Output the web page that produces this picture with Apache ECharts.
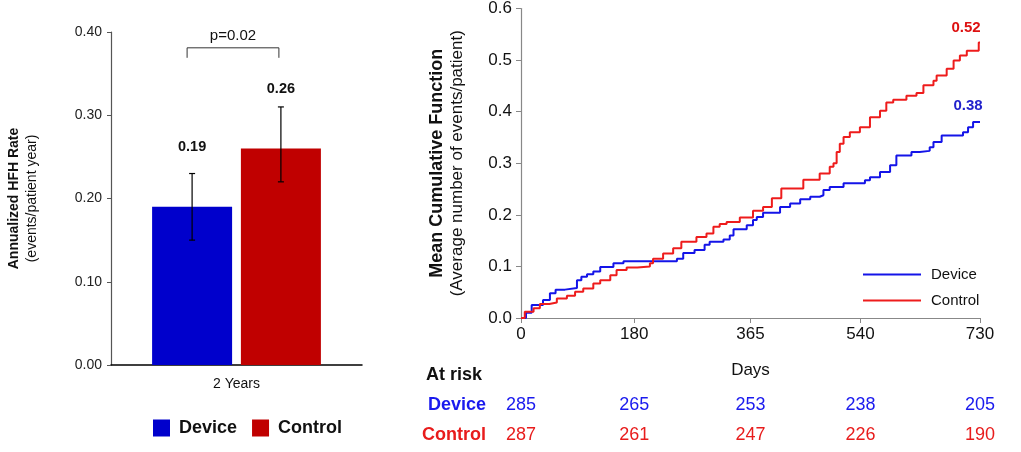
<!DOCTYPE html>
<html>
<head>
<meta charset="utf-8">
<script src="https://cdn.jsdelivr.net/npm/echarts@6/dist/echarts.min.js"></script>
<style>
  html, body { margin: 0; padding: 0; background: #fff; }
  #chart { width: 1021px; height: 452px; }
</style>
</head>
<body>
<div id="chart"></div>
<script>
// 左：年化 HFH 率柱状图；右：平均累积函数阶梯曲线 + 风险人数
const FONT = '"Liberation Sans", Arial, sans-serif';

const barGroups = ['Device', 'Control'];
const barCategory = ['2 Years'];
const hfhRate = [0.19, 0.26];
const hfhLow = [0.15, 0.22];
const hfhHigh = [0.23, 0.31];
const pValueText = 'p=0.02';

const dayTicks = [0, 180, 365, 540, 730];
const deviceDays = [0, 8, 17, 35, 46, 55, 70, 89, 96, 105, 115, 126, 147, 163, 248, 258, 276, 292, 300, 322,
  332, 338, 359, 369, 375, 385, 412, 428, 444, 460, 475, 481, 491, 513, 547, 555, 571, 587, 597, 621,
  634, 650, 656, 669, 703, 711, 719, 730];
const deviceMcf = [0, 0.010, 0.025, 0.035, 0.048, 0.055, 0.058, 0.073, 0.080, 0.085, 0.090, 0.099, 0.106, 0.110, 0.115, 0.126, 0.132, 0.142, 0.148, 0.152,
  0.160, 0.172, 0.180, 0.190, 0.196, 0.204, 0.215, 0.222, 0.230, 0.235, 0.238, 0.248, 0.254, 0.261, 0.267, 0.273, 0.283, 0.296, 0.315, 0.322,
  0.324, 0.331, 0.341, 0.354, 0.360, 0.370, 0.380, 0.380];
const controlDays = [0, 6, 20, 30, 45, 57, 73, 86, 99, 115, 126, 142, 152, 168, 185, 205, 210, 226, 242, 255,
  279, 295, 306, 316, 327, 348, 369, 385, 399, 414, 449, 475, 491, 497, 502, 507, 513, 523, 539, 555,
  571, 581, 592, 613, 629, 640, 656, 661, 677, 688, 698, 709, 728, 730];
const controlMcf = [0, 0.012, 0.019, 0.027, 0.030, 0.038, 0.043, 0.051, 0.057, 0.067, 0.073, 0.083, 0.093, 0.098, 0.100, 0.106, 0.115, 0.125, 0.135, 0.148,
  0.157, 0.164, 0.177, 0.182, 0.186, 0.195, 0.208, 0.215, 0.232, 0.251, 0.268, 0.280, 0.293, 0.300, 0.322, 0.338, 0.351, 0.360, 0.370, 0.389,
  0.402, 0.418, 0.423, 0.431, 0.436, 0.451, 0.460, 0.470, 0.483, 0.499, 0.509, 0.518, 0.534, 0.534];
const endMcfLabels = ['0.38', '0.52'];
const deviceAtRisk = [285, 265, 253, 238, 205];
const controlAtRisk = [287, 261, 247, 226, 190];

const BAR_BLUE = '#0000cc', BAR_RED = '#c00000';
const LINE_BLUE = '#1414e8', LINE_RED = '#ee1c1c';
const BAR_W = 80, BAR_GAP = 0.11;

const chart = echarts.init(document.getElementById('chart'));

function barCenterX(api, grp) {
  const c = api.coord([0, 0])[0];
  return c + (grp - 0.5) * BAR_W * (1 + BAR_GAP);
}

function renderErr(params, api) {
  const grp = api.value(3);
  const x = barCenterX(api, grp);
  const yLo = api.coord([0, api.value(1)])[1];
  const yHi = api.coord([0, api.value(2)])[1];
  const style = { stroke: '#000', lineWidth: 1.2 };
  return {
    type: 'group',
    children: [
      { type: 'line', shape: { x1: x, y1: yLo, x2: x, y2: yHi }, style },
      { type: 'line', shape: { x1: x - 3, y1: yHi, x2: x + 3, y2: yHi }, style },
      { type: 'line', shape: { x1: x - 3, y1: yLo, x2: x + 3, y2: yLo }, style }
    ]
  };
}

function renderBracket(params, api) {
  const x1 = barCenterX(api, 0) - 5;
  const x2 = barCenterX(api, 1) - 2;
  const yEnd = api.coord([0, api.value(1)])[1];
  const yTop = api.coord([0, api.value(2)])[1];
  return {
    type: 'group',
    children: [
      { type: 'polyline', shape: { points: [[x1, yEnd], [x1, yTop], [x2, yTop], [x2, yEnd]] },
        style: { stroke: '#333', lineWidth: 1, fill: null } },
      { type: 'text', x: (x1 + x2) / 2, y: yTop - 12,
        style: { text: pValueText, font: '15px ' + FONT, fill: '#111', align: 'center', verticalAlign: 'middle' } }
    ]
  };
}

const atRiskAxis = (idx, name, counts, color) => ({
  type: 'value', gridIndex: 1, min: 0, max: 730, position: 'bottom', offset: idx,
  name, nameLocation: 'start', nameGap: 35,
  nameTextStyle: { fontFamily: FONT, fontWeight: 'bold', fontSize: 18, color, verticalAlign: 'middle' },
  axisLine: { show: false }, axisTick: { show: false }, splitLine: { show: false },
  axisLabel: {
    customValues: dayTicks, margin: 0, verticalAlign: 'middle',
    fontFamily: FONT, fontSize: 18, color,
    formatter: v => String(counts[dayTicks.indexOf(v)])
  }
});

chart.setOption({
  animation: false,
  backgroundColor: '#fff',
  textStyle: { fontFamily: FONT },
  grid: [
    { left: 111, right: 659, top: 32, bottom: 87 },
    { left: 521, right: 41, top: 8, bottom: 134 }
  ],
  legend: [
    {
      left: 148, top: 414, itemWidth: 17, itemHeight: 17, itemGap: 15, icon: 'rect',
      textStyle: { fontFamily: FONT, fontWeight: 'bold', fontSize: 18, color: '#111', padding: [0, 0, 0, 4] },
      data: [
        { name: 'Device', itemStyle: { color: BAR_BLUE } },
        { name: 'Control', itemStyle: { color: BAR_RED } }
      ]
    },
    {
      left: 858, top: 262, orient: 'vertical', itemWidth: 58, itemHeight: 2, itemGap: 11, icon: 'rect',
      textStyle: { fontFamily: FONT, fontSize: 15, color: '#111', padding: [0, 0, 0, 5] },
      data: [
        { name: 'Device', itemStyle: { color: LINE_BLUE } },
        { name: 'Control', itemStyle: { color: LINE_RED } }
      ]
    }
  ],
  xAxis: [
    {
      type: 'category', gridIndex: 0, data: barCategory,
      axisLine: { lineStyle: { color: '#000', width: 1.5 } },
      axisTick: { show: false },
      axisLabel: { fontFamily: FONT, fontSize: 14, color: '#111', margin: 12 }
    },
    {
      type: 'value', gridIndex: 1, min: 0, max: 730,
      name: 'Days', nameLocation: 'middle', nameGap: 44,
      nameTextStyle: { fontFamily: FONT, fontSize: 17, color: '#111' },
      axisLine: { lineStyle: { color: '#888', width: 1.2 } },
      axisTick: { customValues: dayTicks, length: 5, lineStyle: { color: '#888' } },
      splitLine: { show: false },
      axisLabel: { customValues: dayTicks, fontFamily: FONT, fontSize: 17, color: '#111', margin: 8 }
    },
    atRiskAxis(87, 'Device', deviceAtRisk, '#1a1aee'),
    atRiskAxis(117, 'Control', controlAtRisk, '#e81c1c')
  ],
  yAxis: [
    {
      type: 'value', gridIndex: 0, min: 0, max: 0.4, interval: 0.1,
      name: '{b|Annualized HFH Rate}\n{n|(events/patient year)}',
      nameLocation: 'middle', nameGap: 70,
      nameTextStyle: {
        align: 'center',
        rich: {
          b: { fontFamily: FONT, fontWeight: 'bold', fontSize: 14, color: '#111', lineHeight: 18 },
          n: { fontFamily: FONT, fontSize: 14, color: '#111', lineHeight: 18 }
        }
      },
      axisLine: { show: true, lineStyle: { color: '#555', width: 1.2 } },
      axisTick: { show: true, length: 4, lineStyle: { color: '#555' } },
      splitLine: { show: false },
      axisLabel: { fontFamily: FONT, fontSize: 14, color: '#222', margin: 9, formatter: v => v.toFixed(2) }
    },
    {
      type: 'value', gridIndex: 1, min: 0, max: 0.6, interval: 0.1,
      name: '{b|Mean Cumulative Function}\n{n|(Average number of events/patient)}',
      nameLocation: 'middle', nameGap: 54,
      nameTextStyle: {
        align: 'center',
        rich: {
          b: { fontFamily: FONT, fontWeight: 'bold', fontSize: 18, color: '#111', lineHeight: 20 },
          n: { fontFamily: FONT, fontSize: 17, color: '#111', lineHeight: 20 }
        }
      },
      axisLine: { show: true, lineStyle: { color: '#888', width: 1.2 } },
      axisTick: { show: true, length: 5, lineStyle: { color: '#888' } },
      splitLine: { show: false },
      axisLabel: { fontFamily: FONT, fontSize: 17, color: '#111', margin: 9, formatter: v => v.toFixed(1) }
    }
  ],
  graphic: [
    { type: 'text', left: 426, top: 366, style: { text: 'At risk', font: 'bold 18px ' + FONT, fill: '#111' } }
  ],
  series: [
    {
      name: barGroups[0], type: 'bar', xAxisIndex: 0, yAxisIndex: 0,
      barWidth: BAR_W, barGap: (BAR_GAP * 100) + '%',
      itemStyle: { color: BAR_BLUE },
      label: { show: true, position: 'top', distance: 52, fontFamily: FONT, fontWeight: 'bold', fontSize: 14.5, color: '#111',
        formatter: p => p.value.toFixed(2) },
      data: [hfhRate[0]]
    },
    {
      name: barGroups[1], type: 'bar', xAxisIndex: 0, yAxisIndex: 0,
      barWidth: BAR_W, barGap: (BAR_GAP * 100) + '%',
      itemStyle: { color: BAR_RED },
      label: { show: true, position: 'top', distance: 52, fontFamily: FONT, fontWeight: 'bold', fontSize: 14.5, color: '#111',
        formatter: p => p.value.toFixed(2) },
      data: [hfhRate[1]]
    },
    {
      name: 'err', type: 'custom', xAxisIndex: 0, yAxisIndex: 0, z: 5,
      renderItem: renderErr,
      data: barGroups.map((g, i) => [0, hfhLow[i], hfhHigh[i], i])
    },
    {
      name: 'bracket', type: 'custom', xAxisIndex: 0, yAxisIndex: 0, z: 5,
      renderItem: renderBracket,
      data: [[0, 0.369, 0.381]]
    },
    {
      name: 'Device', type: 'line', xAxisIndex: 1, yAxisIndex: 1, step: 'end', symbol: 'none',
      lineStyle: { color: LINE_BLUE, width: 2 }, itemStyle: { color: LINE_BLUE },
      data: deviceDays.map((d, i) => [d, deviceMcf[i]]),
      markPoint: {
        symbol: 'circle', symbolSize: 1, itemStyle: { color: 'transparent' },
        label: { show: true, position: 'inside', offset: [-12, -16], fontFamily: FONT, fontWeight: 'bold', fontSize: 15, color: '#2222cc',
          formatter: () => endMcfLabels[0] },
        data: [{ coord: [730, deviceMcf[deviceMcf.length - 1]] }]
      }
    },
    {
      name: 'Control', type: 'line', xAxisIndex: 1, yAxisIndex: 1, step: 'end', symbol: 'none',
      lineStyle: { color: LINE_RED, width: 2 }, itemStyle: { color: LINE_RED },
      data: controlDays.map((d, i) => [d, controlMcf[i]]),
      markPoint: {
        symbol: 'circle', symbolSize: 1, itemStyle: { color: 'transparent' },
        label: { show: true, position: 'inside', offset: [-14, -15], fontFamily: FONT, fontWeight: 'bold', fontSize: 15, color: '#dd1111',
          formatter: () => endMcfLabels[1] },
        data: [{ coord: [730, controlMcf[controlMcf.length - 1]] }]
      }
    }
  ]
});
</script>
</body>
</html>
